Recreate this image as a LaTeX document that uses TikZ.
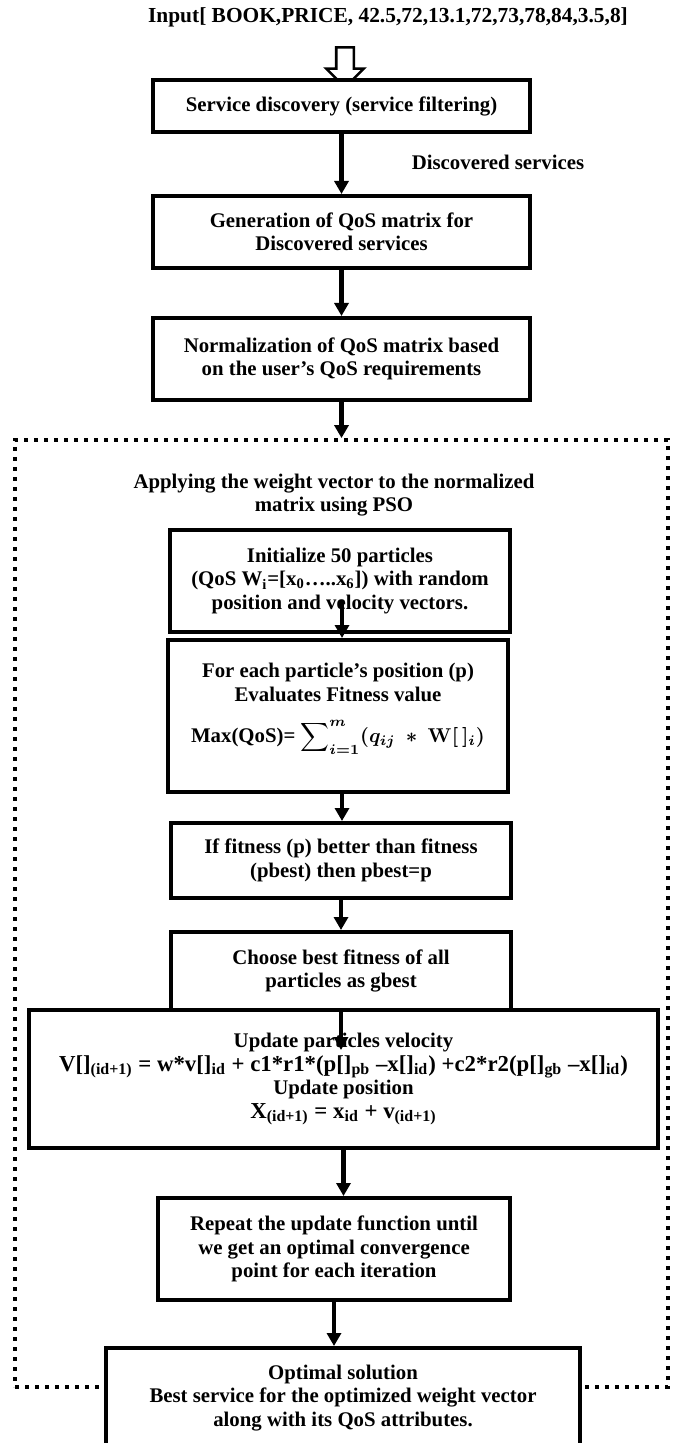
\documentclass[tikz,border=0pt]{standalone}
\usepackage{fontspec}
\setmainfont{Liberation Serif}
\usepackage{amsmath}
\usetikzlibrary{arrows.meta,shapes.arrows}

\tikzset{
  box/.style={draw, line width=2pt, fill=white, align=center, inner sep=2pt},
  flow/.style={line width=2.3pt, -{Triangle[width=7pt,length=6.5pt]}},
  pso/.style={draw, line width=1.9pt, dash pattern=on 1.9pt off 3.1pt},
}

\begin{document}
\begin{tikzpicture}[x=0.5pt, y=-0.5pt, font=\fontsize{10.4}{11.75}\selectfont\bfseries]
    \useasboundingbox (0,0) rectangle (675,1443);

    % Input
    \node[font=\fontsize{10.7}{12}\selectfont\bfseries] (input) at (388,17) {Input[ BOOK,PRICE, 42.5,72,13.1,72,73,78,84,3.5,8]};
    \node[single arrow, draw, line width=1.3pt, shape border rotate=270, minimum height=20pt, minimum width=17.5pt, inner sep=3.75pt, single arrow head extend=5pt] (inarrow) at (345,63) {};

    % Discovery and QoS matrix
    \node[box, minimum width=188.5pt, minimum height=26pt] (disc) at (341.5,106) {Service discovery (service filtering)};
    \node[box, minimum width=188.5pt, minimum height=36pt] (qosgen) at (341.5,232) {Generation of QoS matrix for\\Discovered services};
    \node[box, minimum width=188.5pt, minimum height=41pt] (norm) at (341.5,359) {Normalization of QoS matrix based\\on the user’s QoS requirements};
    \node (discl) at (498,162) {Discovered services};

    % PSO frame
    \node[pso, minimum width=326.5pt, minimum height=473.5pt] (psobox) at (341.5,913.5) {};
    \node[align=center] (psotitle) at (334,495) {Applying the weight vector to the normalized\\matrix using PSO};

    % PSO steps
    \node[box, minimum width=170pt, minimum height=51pt] (init) at (340,581) {Initialize 50 particles\\(QoS W\textsubscript{i}=[x\textsubscript{0}…..x\textsubscript{6}]) with random\\position and velocity vectors.};
    \node[box, minimum width=170pt, minimum height=76pt] (fitness) at (338,716) {For each particle’s position (p)\\Evaluates Fitness value\\[9pt]Max(QoS)= {\boldmath$\displaystyle\sum\nolimits_{i=1}^{m}(q_{ij}\ \ast\ \mathbf{W}[\,]_{i})$}\\[1pt]\mbox{}};
    \node[box, minimum width=170pt, minimum height=37.5pt] (pbest) at (341,860.5) {If fitness (p) better than fitness\\(pbest) then pbest=p};
    \node[box, minimum width=170pt, minimum height=39pt] (gbest) at (341,971) {Choose best fitness of all\\particles as gbest};
    \node[box, minimum width=314.5pt, minimum height=69pt] (update) at (343.5,1079) {Update particles velocity\\{\fontsize{11.4}{12}\selectfont V[]\textsubscript{(id+1)} = w*v[]\textsubscript{id} + c1*r1*(p[]\textsubscript{pb} –x[]\textsubscript{id}) +c2*r2(p[]\textsubscript{gb} –x[]\textsubscript{id})}\\Update position\\{\fontsize{11.4}{12}\selectfont X\textsubscript{(id+1)} = x\textsubscript{id} + v\textsubscript{(id+1)}}};
    \node[box, minimum width=176pt, minimum height=51pt] (repeat) at (334,1249) {Repeat the update function until\\we get an optimal convergence\\point for each iteration};
    \node[box, minimum width=237pt, minimum height=50pt] (optimal) at (343,1398) {Optimal solution\\Best service for the optimized weight vector\\along with its QoS attributes.};

    % Free ends inside boxes
    \coordinate (initout) at (342,600);
    \coordinate (updin) at (341,1050);

    % Connections
    \draw[flow] (disc) -- (qosgen);
    \draw[flow] (qosgen) -- (norm);
    \draw[flow] (norm.south) -- (norm.south |- psobox.north);
    \draw[flow] (initout) -- (initout |- fitness.north);
    \draw[flow] (fitness.south -| initout) -- (initout |- pbest.north);
    \draw[flow] (pbest) -- (gbest);
    \draw[flow] (gbest.south) -- (updin);
    \draw[flow] (update.south) -- (update.south |- repeat.north);
    \draw[flow] (repeat.south) -- (repeat.south |- optimal.north);
\end{tikzpicture}
\end{document}
